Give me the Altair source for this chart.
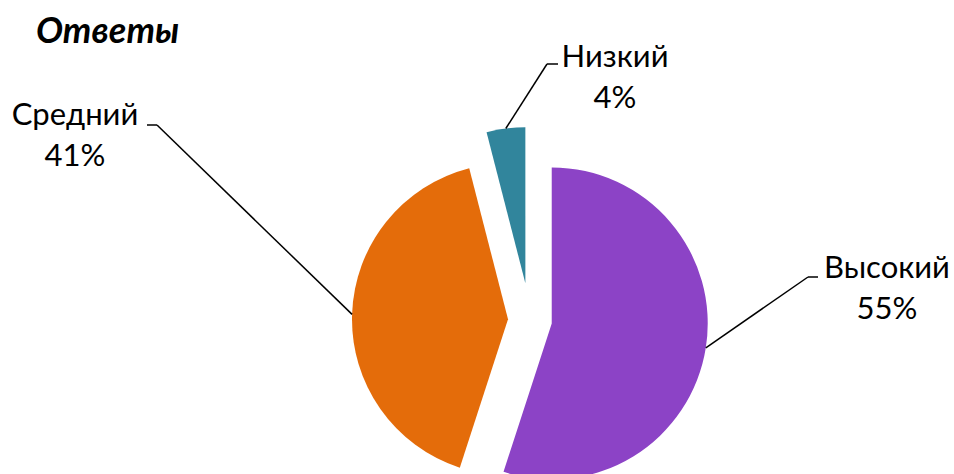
import altair as alt
import pandas as pd

# ---- data ----
categories = ["Высокий", "Средний", "Низкий"]
values = [55, 41, 4]
title_text = "Ответы"

# ---- style / layout ----
colors = ["#8C43C6", "#E46C0A", "#31859C"]
explode = [22, 22, 37]            # px the slice is pulled out
hook_x = [818, 147, 558]          # where the leader meets the label
hook_y = [277, 125, 64]
hook_dir = [-10, 10, -11]         # short horizontal stub toward the pie
label_x = [887, 75, 615]          # label centre
label_y = [278, 125, 67]          # first-line baseline
CX, CY, R = 530, 320, 156
FONT = "Lato"

df = pd.DataFrame({
    "cat": categories, "value": values, "order": list(range(len(values))),
    "explode": explode, "hx": hook_x, "hy": hook_y, "hdir": hook_dir,
    "lx": label_x, "ly": label_y,
})

base = (
    alt.Chart(df)
    .transform_joinaggregate(total="sum(value)")
    .transform_window(cum="sum(value)", sort=[alt.SortField("order")], frame=[None, 0])
    .transform_calculate(a0="2*PI*(datum.cum - datum.value)/datum.total",
                         a1="2*PI*datum.cum/datum.total")
    .transform_calculate(mid="(datum.a0 + datum.a1)/2")
    .transform_calculate(px=f"{CX} + datum.explode*sin(datum.mid)",
                         py=f"{CY} - datum.explode*cos(datum.mid)")
    .transform_calculate(ax=f"datum.px + {R}*sin(datum.mid)",
                         ay=f"datum.py - {R}*cos(datum.mid)",
                         ex="datum.hx + datum.hdir",
                         label="datum.cat + '\\n' + datum.value + '%'")
)

arcs = base.mark_arc(radius=R).encode(
    theta=alt.Theta("a0:Q", scale=None),
    theta2=alt.Theta2("a1:Q"),
    x=alt.X("px:Q", scale=None),
    y=alt.Y("py:Q", scale=None),
    color=alt.Color("cat:N", scale=alt.Scale(domain=categories, range=colors), legend=None),
)

lead1 = base.mark_rule(color="black", strokeWidth=1.5).encode(
    x=alt.X("ax:Q", scale=None), y=alt.Y("ay:Q", scale=None),
    x2=alt.X2("ex:Q"), y2=alt.Y2("hy:Q"),
)
lead2 = base.mark_rule(color="black", strokeWidth=1.5).encode(
    x=alt.X("ex:Q", scale=None), y=alt.Y("hy:Q", scale=None),
    x2=alt.X2("hx:Q"), y2=alt.Y2("hy:Q"),
)

labels = base.mark_text(
    align="center", baseline="alphabetic", font=FONT, fontSize=31,
    lineBreak="\n", lineHeight=41, color="black",
).encode(
    x=alt.X("lx:Q", scale=None), y=alt.Y("ly:Q", scale=None), text="label:N",
)

title = alt.Chart(pd.DataFrame({"t": [title_text]})).mark_text(
    align="left", baseline="alphabetic", font=FONT, fontSize=36,
    fontWeight="bold", fontStyle="italic", color="black",
).encode(x=alt.value(36), y=alt.value(43), text="t:N")

chart = (
    alt.layer(arcs, lead1, lead2, labels, title)
    .properties(width=954, height=474, autosize="none", padding=0)
    .configure_view(stroke=None)
)

chart.save("out.html", embed_options={"renderer": "svg", "actions": False})
